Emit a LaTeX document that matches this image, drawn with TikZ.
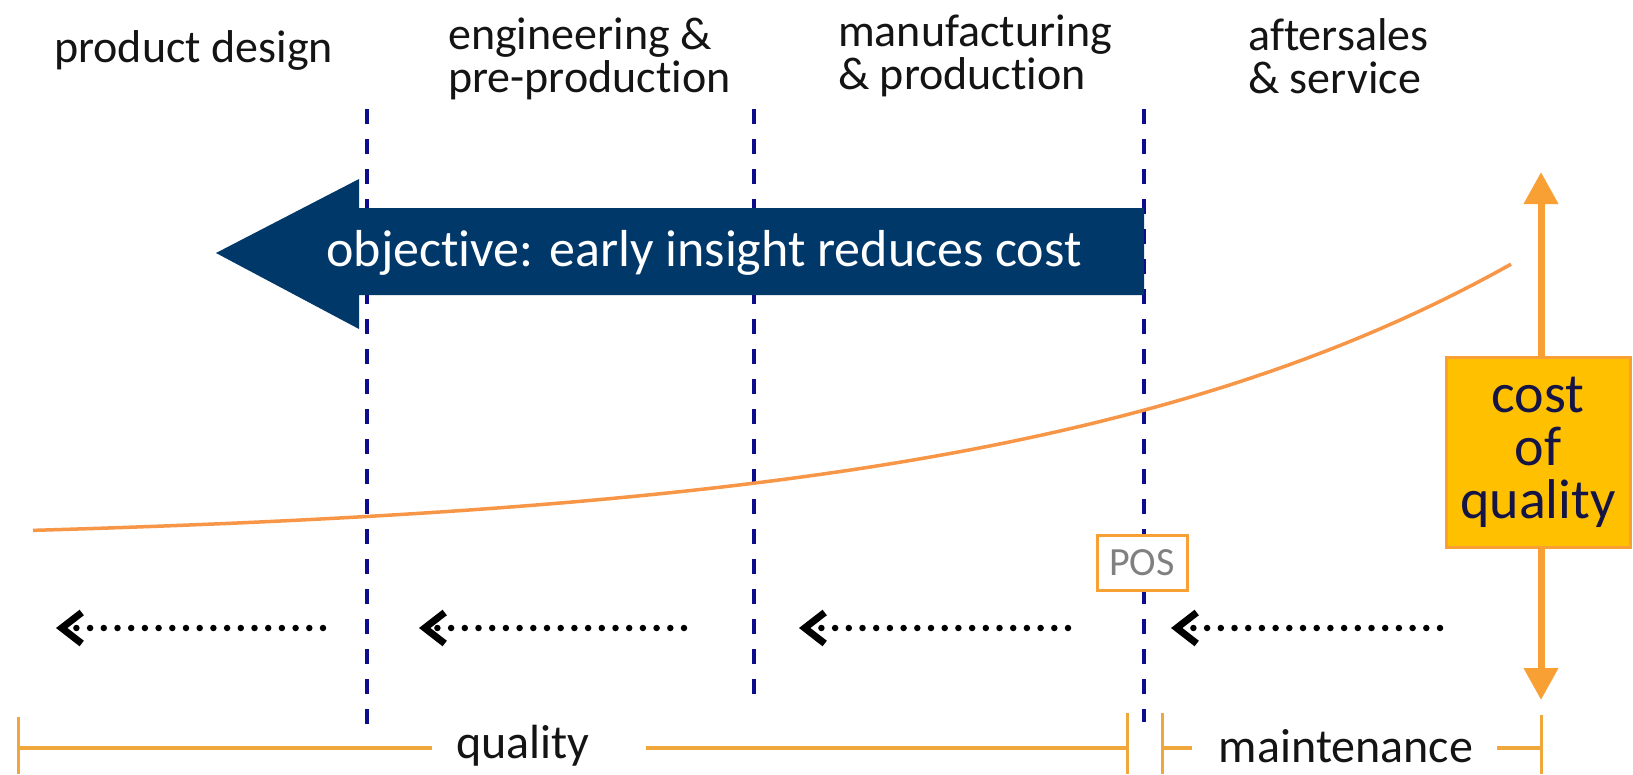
\documentclass[tikz,border=0pt]{standalone}
\usepackage{fontspec}
\setmainfont{Carlito}[Ligatures=NoCommon]
\usetikzlibrary{arrows.meta,calc}
\definecolor{navy}{RGB}{0,56,106}
\definecolor{dashblue}{RGB}{12,12,140}
\definecolor{curveorange}{RGB}{247,150,70}
\definecolor{arroworange}{RGB}{249,160,53}
\definecolor{barorange}{RGB}{240,168,60}
\definecolor{boxgold}{RGB}{255,192,0}
\definecolor{boxtext}{RGB}{20,20,70}
\definecolor{labeltext}{RGB}{20,20,20}
\begin{document}
\begin{tikzpicture}[x=1pt,y=-1pt,
  phase/.style={inner sep=0pt, align=left, font=\fontsize{46}{43}\selectfont, text=labeltext},
  divider/.style={dashblue, line width=3.4pt, dash pattern=on 15pt off 15pt},
  curve/.style={curveorange, line width=3.5pt},
  bigarrow/.style={fill=navy},
  objtext/.style={text=white, inner sep=0pt, font=\fontsize{52}{52}\selectfont},
  posbox/.style={draw=arroworange, line width=3pt, fill=white, text=gray, minimum width=90pt, minimum height=55pt, inner sep=0pt, font=\fontsize{40}{40}\selectfont},
  dotarrow/.style={black, line width=6.5pt, line cap=round, dash pattern=on 0pt off 13.7pt, -{Straight Barb[length=20pt,width=31pt,line width=7pt]}},
  costarrow/.style={arroworange, line width=7pt, -{Triangle[length=32pt,width=33pt]}},
  costbox/.style={draw=arroworange, line width=3pt, fill=boxgold, text=boxtext, align=center, minimum width=184pt, minimum height=190pt, inner sep=0pt, font=\fontsize{56}{53}\selectfont},
  bar/.style={barorange, line width=4pt},
  barlabel/.style={inner sep=0pt, text=labeltext, font=\fontsize{48}{48}\selectfont}
]
\useasboundingbox[fill=white] (0,0) rectangle (1633,774);

% phase labels
\node[phase, anchor=base west] (pd) at (54,62) {product design};
\node[phase, anchor=north west] (eng) at (448,18) {engineering \&\\pre-production};
\node[phase, anchor=north west] (man) at (838,15) {manufacturing\\\& production};
\node[phase, anchor=north west] (aft) at (1248,18) {aftersales\\\& service};

% dividers
\coordinate (v1t) at (367,109); \coordinate (v1b) at (367,724);
\coordinate (v2t) at (754,109); \coordinate (v2b) at (754,703);
\coordinate (v3t) at (1144,109); \coordinate (v3b) at (1144,722);
\draw[divider] (v1t) -- (v1b);
\draw[divider] (v2t) -- (v2b);
\draw[divider] (v3t) -- (v3b);

% cost curve
\draw[curve] plot[domain=33:1511, samples=80] (\x, {545-13.7*exp(0.002*\x)});

% objective arrow
\fill[bigarrow] (216,253) -- (359,179) -- (359,208) -- (1144,208) -- (1144,295) -- (359,295) -- (359,329) -- cycle;
\node[objtext] (obj) at (704,253) {objective: early insight reduces cost};

% POS
\node[posbox] (pos) at (1142,563) {POS};

% dotted arrows
\coordinate (d1s) at (323,628); \coordinate (d1e) at (56,628);
\coordinate (d2s) at (684,628); \coordinate (d2e) at (419,628);
\coordinate (d3s) at (1068,628); \coordinate (d3e) at (799,628);
\coordinate (d4s) at (1440,628); \coordinate (d4e) at (1171,628);
\draw[dotarrow] (d1s) -- (d1e);
\draw[dotarrow] (d2s) -- (d2e);
\draw[dotarrow] (d3s) -- (d3e);
\draw[dotarrow] (d4s) -- (d4e);

% cost of quality
\coordinate (upt) at (1541,172);
\coordinate (dnt) at (1541,700);
\node[costbox] (cq) at (1538,452) {cost\\of\\quality};
\draw[costarrow] (cq.north -| upt) -- (upt);
\draw[costarrow] (cq.south -| dnt) -- (dnt);

% bottom bars
\node[barlabel] (ql) at (523,746) {quality};
\node[barlabel] (mt) at (1346,746) {maintenance};
\coordinate (qL) at (18,748); \coordinate (qa) at (432,748);
\coordinate (qb) at (646,748); \coordinate (qR) at (1127,748);
\coordinate (mL) at (1162,748); \coordinate (ma) at (1192,748);
\coordinate (mb) at (1497,748); \coordinate (mR) at (1541,748);
\draw[bar] (qL) -- (qa);
\draw[bar] (qb) -- (qR);
\draw[bar] (mL) -- (ma);
\draw[bar] (mb) -- (mR);
\draw[bar, line width=3pt] ($(qL)+(0,-31)$) -- ($(qL)+(0,26)$);
\draw[bar, line width=3pt] ($(qR)+(0,-35)$) -- ($(qR)+(0,26)$);
\draw[bar, line width=3pt] ($(mL)+(0,-35)$) -- ($(mL)+(0,26)$);
\draw[bar, line width=3pt] ($(mR)+(0,-33)$) -- ($(mR)+(0,26)$);
\end{tikzpicture}
\end{document}
